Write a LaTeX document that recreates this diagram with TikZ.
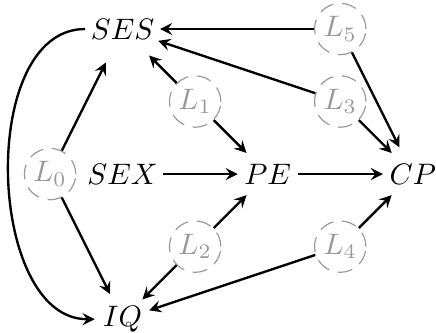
\documentclass[tikz,border=0pt]{standalone}
\usetikzlibrary{shapes.geometric, arrows}
\tikzstyle{observed} = [
    circle,
    inner sep=1pt
]
\tikzstyle{latent} = [
    circle,
    inner sep=1.2pt,
    draw=gray!80,
    dash pattern=on 5pt off 3pt,
    text=gray!80
]
\tikzstyle{arrow} = [thick,->,>=stealth]

\begin{document}
\begin{tikzpicture}[x=24.5pt, y=24.5pt]
\useasboundingbox (-0.69,0.4) rectangle (5.32,-4.19);

\node (SES) [observed] at (1,0) {$SES$};
\node (SEX) [observed] at (1,-2) {$SEX$};
\node (IQ) [observed] at (1,-4) {$IQ$};
\node (PE) [observed] at (3,-2) {$PE$};
\node (CP) [observed] at (5,-2) {$CP$};

\node (L0) [latent] at (0,-2) {$L_0$};
\node (L1) [latent] at (2,-1) {$L_1$};
\node (L2) [latent] at (2,-3) {$L_2$};
\node (L3) [latent] at (4,-1) {$L_3$};
\node (L4) [latent] at (4,-3) {$L_4$};
\node (L5) [latent] at (4,0) {$L_5$};

\draw [arrow] (SES) to[out=180, in=180, looseness=0.95] (IQ);
\draw [arrow] (SEX) -- (PE);
\draw [arrow] (PE) -- (CP);
\draw [arrow] (L0) -- (SES);
\draw [arrow] (L0) -- (IQ);
\draw [arrow] (L1) -- (SES);
\draw [arrow] (L1) -- (PE);
\draw [arrow] (L2) -- (PE);
\draw [arrow] (L2) -- (IQ);
\draw [arrow] (L3) -- (SES);
\draw [arrow] (L3) -- (CP);
\draw [arrow] (L4) -- (CP);
\draw [arrow] (L4) -- (IQ);
\draw [arrow] (L5) -- (SES);
\draw [arrow] (L5) -- (CP);

\end{tikzpicture}
\end{document}
